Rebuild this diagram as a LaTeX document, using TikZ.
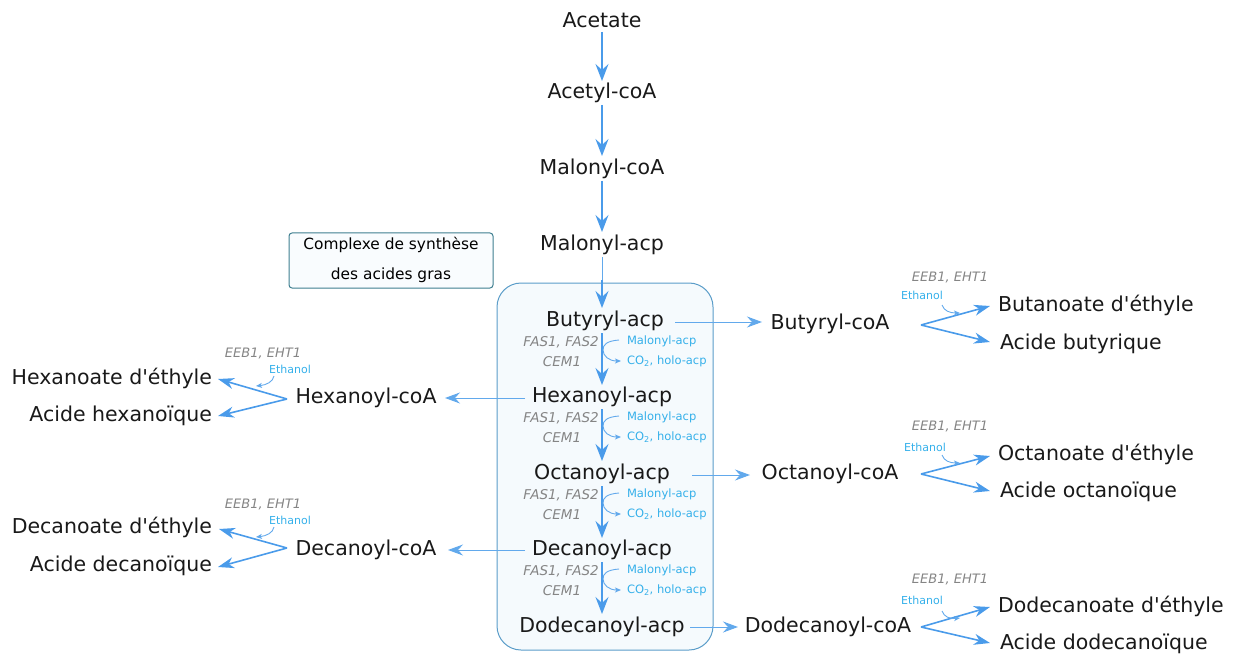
\documentclass[tikz,border=0pt]{standalone}
\usepackage{fontspec}
\setmainfont{DejaVu Sans}[Ligatures=TeXOff]
\usetikzlibrary{arrows.meta}
\definecolor{arr}{HTML}{4A9BEA}
\definecolor{lightarr}{HTML}{62A9EC}
\definecolor{cyantxt}{HTML}{35B0EA}
\definecolor{graytxt}{HTML}{858585}
\definecolor{boxline}{HTML}{5B9DC9}
\definecolor{boxfill}{HTML}{F5FAFD}
\definecolor{legline}{HTML}{3F7F90}
\tikzset{
  every node/.style={inner sep=0pt, outer sep=0pt},
  main/.style={font=\fontsize{20.5}{23}\selectfont, text=black!90},
  enz/.style={font=\fontsize{13.5}{15}\selectfont\itshape, text=graytxt},
  enzb/.style={font=\fontsize{13}{15}\selectfont\itshape, text=graytxt},
  cof/.style={font=\fontsize{11.5}{13}\selectfont, text=cyantxt},
  eth/.style={font=\fontsize{11}{13}\selectfont, text=cyantxt},
  bigarrow/.style={draw=arr, line width=1.6pt, -{Stealth[length=17pt,width=13pt,inset=6pt]}},
  hline/.style={draw=lightarr, line width=1pt, -{Stealth[length=15pt,width=11pt,inset=5pt]}},
  forkarrow/.style={draw=arr, line width=1.6pt, -{Stealth[length=16pt,width=11pt,inset=5pt]}},
  curvearrow/.style={draw=lightarr, line width=0.9pt, -{Stealth[length=6pt,width=5pt,inset=1.5pt]}},
}
\begin{document}
\begin{tikzpicture}[x=1pt,y=-1pt]
\useasboundingbox (0,0) rectangle (1234,655);

% boxes
\draw[boxline, fill=boxfill, line width=1pt, rounded corners=24pt] (497,283) rectangle (713,650);
\node[draw=legline, fill=boxfill!60!white, line width=1pt, rounded corners=3pt, minimum width=204pt, minimum height=55pt] (leg) at (391,260.5) {};
\node[font=\fontsize{15.4}{17}\selectfont] (leg1) at (391,245) {Complexe de synthèse};
\node[font=\fontsize{15.4}{17}\selectfont] (leg2) at (391,275) {des acides gras};

% main column
\node[main] (acet) at (602,20) {Acetate};
\node[main] (acoa) at (602,93) {Acetyl-coA};
\node[main] (mcoa) at (602,169) {Malonyl-coA};
\node[main] (macp) at (602,245) {Malonyl-acp};
\node[main] (bacp) at (605,321) {Butyryl-acp};
\node[main] (hacp) at (602,397) {Hexanoyl-acp};
\node[main] (oacp) at (602,474) {Octanoyl-acp};
\node[main] (dacp) at (602,550) {Decanoyl-acp};
\node[main] (ddacp) at (602,627) {Dodecanoyl-acp};

\draw[bigarrow] (602,32) -- (602,81);
\draw[bigarrow] (602,105) -- (602,156);
\draw[bigarrow] (602,181) -- (602,232);
\draw[draw=lightarr, line width=1pt] (602,257) -- (602,290);
\draw[bigarrow] (602,280) -- (602,308);
\draw[bigarrow] (602,333) -- (602,385);
\draw[bigarrow] (602,409) -- (602,461);
\draw[bigarrow] (602,486) -- (602,538);
\draw[bigarrow] (602,562) -- (602,614);

% enzyme steps
\foreach \y/\nm in {321/s1,397/s2,474/s3,550/s4}{
  \node[enz] (\nm e1) at (561,\y+21) {FAS1, FAS2};
  \node[enz] (\nm e2) at (562,\y+41) {CEM1};
  \node[cof, anchor=west] (\nm c1) at (627,\y+20) {Malonyl-acp};
  \node[cof, anchor=west] (\nm c2) at (627,\y+40) {CO\textsubscript{2}, holo-acp};
  \coordinate (\nm p1) at (619,\y+19);
  \coordinate (\nm p2) at (621,\y+40);
  \draw[curvearrow] (\nm p1) .. controls (606,\y+20) and (603,\y+24) .. (603,\y+29)
        .. controls (603,\y+35) and (609,\y+40) .. (\nm p2);
}

% right side: Butyryl
\node[main] (bcoa) at (830,324) {Butyryl-coA};
\draw[hline] (675,322) -- (762,322);
\node[main, anchor=west] (best) at (998,305) {Butanoate d'éthyle};
\node[main, anchor=west] (bacid) at (1000,344) {Acide butyrique};
\node[enzb] (benz) at (950,278) {EEB1, EHT1};
\node[eth] (beth) at (922,295) {Ethanol};
\coordinate (bf) at (921,325);
\draw[forkarrow] (bf) -- (990,306);
\draw[forkarrow] (bf) -- (990,342);
\draw[curvearrow] (942,305) .. controls (944,311) and (950,313) .. (960,313);

% right side: Octanoyl
\node[main] (ocoa) at (830,474) {Octanoyl-coA};
\draw[hline] (692,475) -- (750,475);
\node[main, anchor=west] (oest) at (998,454) {Octanoate d'éthyle};
\node[main, anchor=west] (oacid) at (1000,492) {Acide octanoïque};
\node[enzb] (oenz) at (950,427) {EEB1, EHT1};
\node[eth] (oeth) at (925,447) {Ethanol};
\coordinate (of) at (921,474);
\draw[forkarrow] (of) -- (990,456);
\draw[forkarrow] (of) -- (990,491);
\draw[curvearrow] (942,455) .. controls (944,461) and (950,463) .. (960,463);

% right side: Dodecanoyl
\node[main] (ddcoa) at (828,627) {Dodecanoyl-coA};
\draw[hline] (690,627) -- (738,627);
\node[main, anchor=west] (ddest) at (998,606) {Dodecanoate d'éthyle};
\node[main, anchor=west] (ddacid) at (1000,644) {Acide dodecanoïque};
\node[enzb] (ddenz) at (950,580) {EEB1, EHT1};
\node[eth] (ddeth) at (922,600) {Ethanol};
\coordinate (ddf) at (921,627);
\draw[forkarrow] (ddf) -- (990,607);
\draw[forkarrow] (ddf) -- (990,643);
\draw[curvearrow] (942,611) .. controls (944,617) and (950,619) .. (960,618);

% left side: Hexanoyl
\node[main] (hcoa) at (366,398) {Hexanoyl-coA};
\draw[hline] (525,398) -- (445,398);
\node[main, anchor=east] (hest) at (212,378) {Hexanoate d'éthyle};
\node[main, anchor=east] (hacid) at (212,416) {Acide hexanoïque};
\node[enzb] (henz) at (263,354) {EEB1, EHT1};
\node[eth] (heth) at (290,369) {Ethanol};
\coordinate (hf) at (287,399);
\draw[forkarrow] (hf) -- (218,379);
\draw[forkarrow] (hf) -- (218,416);
\draw[curvearrow] (274,376) .. controls (273,382) and (266,385) .. (256,386);

% left side: Decanoyl
\node[main] (dcoa) at (366,550) {Decanoyl-coA};
\draw[hline] (525,550) -- (448,550);
\node[main, anchor=east] (dest) at (212,527) {Decanoate d'éthyle};
\node[main, anchor=east] (dacid) at (212,566) {Acide decanoïque};
\node[enzb] (denz) at (263,505) {EEB1, EHT1};
\node[eth] (deth) at (290,520) {Ethanol};
\coordinate (df) at (287,548);
\draw[forkarrow] (df) -- (219,529);
\draw[forkarrow] (df) -- (218,567);
\draw[curvearrow] (274,527) .. controls (273,533) and (266,536) .. (256,537);
\end{tikzpicture}
\end{document}
